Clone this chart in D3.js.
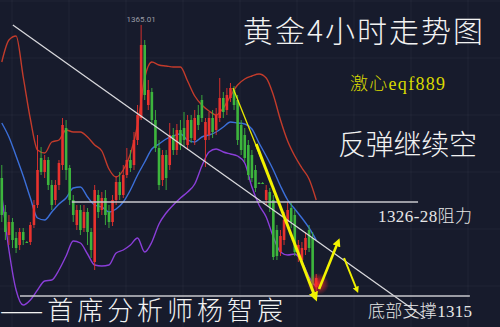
<!DOCTYPE html>
<html>
<head>
<meta charset="utf-8">
<style>
  html, body { margin: 0; padding: 0; background: #171b2c; }
  svg { display: block; }
</style>
</head>
<body>
<svg width="500" height="327"></svg>
<script src="https://cdn.jsdelivr.net/npm/d3@7/dist/d3.min.js"></script>
<script>
// 4小时K线 (开, 收, 高, 低)
var opens = [1334.4, 1327.6, 1323.0, 1325.6, 1322.4, 1321.0, 1323.6, 1321.6, 1321.6, 1325.0,
    1329.0, 1338.4, 1335.6, 1338.0, 1333.0, 1330.0, 1333.0, 1337.0, 1344.4, 1336.4,
    1330.0, 1325.0, 1328.0, 1324.4, 1327.6, 1323.6, 1317.6, 1331.0, 1328.0, 1330.4,
    1327.6, 1325.6, 1330.0, 1333.6, 1331.0, 1335.0, 1338.0, 1337.0, 1342.0, 1346.4,
    1361.0, 1349.0, 1351.6, 1346.0, 1340.4, 1334.0, 1339.0, 1337.0, 1343.0, 1340.0,
    1344.0, 1344.4, 1341.0, 1346.0, 1342.0, 1347.0, 1350.0, 1342.0, 1343.0, 1346.4,
    1344.0, 1346.4, 1350.4, 1348.0, 1350.4, 1352.0, 1350.0, 1345.0, 1343.0, 1341.0,
    1339.0, 1336.0, 1333.4, 1333.4, 1330.0, 1331.6, 1330.0, 1324.0, 1319.6, 1322.0,
    1325.6, 1328.4, 1327.0, 1319.0, 1318.0, 1320.0, 1324.0, 1322.4, 1312.6];
var closes = [1327.0, 1323.6, 1325.6, 1322.0, 1320.4, 1323.6, 1322.0, 1321.5, 1325.0, 1329.0,
    1336.0, 1335.6, 1338.0, 1333.0, 1329.0, 1333.0, 1337.4, 1345.0, 1336.0, 1330.0,
    1327.0, 1328.0, 1324.0, 1327.6, 1323.6, 1320.0, 1332.0, 1327.6, 1330.4, 1327.0,
    1325.6, 1330.0, 1333.6, 1331.0, 1335.0, 1338.0, 1336.4, 1342.0, 1347.0, 1361.0,
    1351.0, 1352.0, 1346.0, 1340.4, 1333.0, 1339.0, 1334.4, 1343.0, 1340.0, 1344.0,
    1341.0, 1342.0, 1346.0, 1342.4, 1346.4, 1345.0, 1346.4, 1345.6, 1346.4, 1343.6,
    1347.0, 1350.4, 1347.6, 1351.0, 1352.4, 1349.0, 1342.0, 1340.0, 1338.4, 1335.0,
    1334.4, 1332.4, 1333.3, 1333.3, 1332.0, 1328.6, 1318.6, 1318.8, 1322.8, 1326.0,
    1328.0, 1325.6, 1319.6, 1321.0, 1320.4, 1322.4, 1320.4, 1313.0, 1314.4];
var highs = [1337.0, 1329.0, 1327.0, 1326.4, 1323.6, 1324.4, 1324.4, 1321.8, 1325.6, 1330.0,
    1343.0, 1340.6, 1339.0, 1338.6, 1334.0, 1334.0, 1338.0, 1346.4, 1346.0, 1337.0,
    1331.0, 1329.0, 1329.0, 1329.0, 1328.4, 1324.4, 1333.0, 1332.0, 1331.6, 1332.0,
    1329.0, 1331.0, 1334.8, 1335.6, 1337.0, 1340.4, 1340.0, 1343.6, 1349.0, 1365.01,
    1362.0, 1354.0, 1352.4, 1348.0, 1342.0, 1340.0, 1340.0, 1345.4, 1344.4, 1345.2,
    1346.0, 1347.6, 1347.0, 1347.0, 1348.0, 1349.0, 1351.0, 1346.4, 1347.6, 1348.0,
    1348.4, 1354.4, 1351.6, 1352.4, 1353.4, 1352.8, 1351.0, 1346.0, 1344.4, 1342.0,
    1340.0, 1337.0, 1333.6, 1333.6, 1333.0, 1332.4, 1331.0, 1325.0, 1324.0, 1327.6,
    1329.6, 1329.4, 1328.0, 1322.0, 1321.6, 1323.6, 1325.0, 1323.6, 1315.2];
var lows = [1325.6, 1322.0, 1321.0, 1320.4, 1319.4, 1320.0, 1321.0, 1321.4, 1321.0, 1324.4,
    1328.4, 1335.0, 1334.4, 1332.0, 1328.0, 1329.0, 1332.0, 1336.0, 1334.0, 1329.0,
    1325.6, 1324.0, 1323.0, 1323.6, 1321.0, 1318.4, 1316.0, 1326.4, 1327.0, 1325.0,
    1324.4, 1324.8, 1329.0, 1330.0, 1330.4, 1334.4, 1335.6, 1336.0, 1341.0, 1346.0,
    1350.0, 1348.0, 1345.0, 1339.6, 1332.0, 1332.8, 1332.0, 1336.0, 1339.0, 1339.0,
    1340.0, 1340.8, 1340.0, 1341.4, 1341.0, 1344.0, 1345.6, 1336.6, 1342.0, 1342.4,
    1343.0, 1345.6, 1346.4, 1347.0, 1349.6, 1348.0, 1341.0, 1339.0, 1337.6, 1334.0,
    1333.6, 1331.6, 1333.2, 1333.2, 1329.0, 1327.6, 1318.0, 1318.0, 1318.8, 1321.0,
    1324.4, 1324.4, 1318.8, 1317.6, 1317.2, 1319.0, 1319.6, 1312.0, 1311.6];

// 布林带, 每两根K线取一个值
var bandStep = 2;
var upperBand = [1357.6, 1362, 1362.8, 1354.6, 1346.2, 1340, 1339.4, 1341.6, 1342, 1344,
    1343.6, 1343.6, 1342.6, 1341, 1339.8, 1336.2, 1334.6, 1336, 1339.2, 1345,
    1354.4, 1357.6, 1357, 1356.8, 1356.6, 1356.6, 1353.8, 1350.8, 1349, 1347.8,
    1347, 1348.4, 1350.8, 1353, 1354.2, 1354.8, 1355.2, 1354.4, 1351, 1346,
    1341.8, 1338.8, 1336.4, 1334.2, 1330];
var midBand = [1345.4, 1342.6, 1338.8, 1334.8, 1330.4, 1326.4, 1326, 1327.6, 1329.2, 1330.4,
    1332.4, 1332.6, 1330.6, 1329, 1328.6, 1327.6, 1328.2, 1329.6, 1332, 1335,
    1337.6, 1340.2, 1341.2, 1342.2, 1342.8, 1343.2, 1342, 1341.6, 1342.6, 1343,
    1343.6, 1344.6, 1345.6, 1345.4, 1345.2, 1344.2, 1341.4, 1338.8, 1336, 1332.8,
    1330, 1328.2, 1326.4, 1324.4, 1322];
var lowerBand = [1331, 1320, 1312, 1309, 1310, 1312, 1313.8, 1314, 1316, 1318.8,
    1321.8, 1321.4, 1319.2, 1317, 1316.8, 1317, 1319.4, 1320, 1321, 1322.4,
    1319.6, 1321.6, 1325.2, 1327.4, 1329, 1330.4, 1331.6, 1333.2, 1336.8, 1339.6,
    1340.2, 1339.6, 1339.2, 1338.8, 1337.4, 1332.6, 1329, 1326.6, 1322.6, 1319.6,
    1319, 1319.2, 1317.6, 1314.6, 1312.6];

// 画线 [K线序号, 价格]
var trendLine = [[3.1, 1365.0], [118.5, 1306.4]];
var resistanceLine = [[19.6, 1329.6], [116.5, 1329.6]];
var supportLine = [[5.1, 1310.8], [131.0, 1310.8]];
var yellowThin = [[64.7, 1352.4], [72.8, 1338.0]];
var yellowDown = [[71.2, 1341.2], [87.7, 1310.6]];
var yellowUp = [[88.8, 1312.2], [94.1, 1321.6]];
var yellowNext = [[95.8, 1318.4], [99.4, 1312.0]];
var glowPoint = [88.5, 1313.2];
var highIndex = 39;

var svg = d3.select("svg"),
    width = +svg.attr("width"),
    height = +svg.attr("height");

var x = d3.scaleLinear().domain([-0.5, closes.length - 0.5]).range([0, 318]),
    y = d3.scaleLinear().domain([1310, 1370]).range([300, 0]);

var barW = 2.6,
    upColor = "#e8322e",
    downColor = "#3db53d";

svg.append("rect").attr("width", width).attr("height", height).attr("fill", "#171b2c");

// 淡网格
var grid = svg.append("g").attr("stroke", "#ffffff").attr("stroke-opacity", 0.045);
grid.selectAll(".v").data(d3.range(12, width, 57)).enter().append("line")
    .attr("x1", d => d).attr("x2", d => d).attr("y1", 0).attr("y2", height);
grid.selectAll(".h").data(d3.range(286, 0, -57)).enter().append("line")
    .attr("x1", 0).attr("x2", width).attr("y1", d => d).attr("y2", d => d);

var defs = svg.append("defs");
var glow = defs.append("radialGradient").attr("id", "glow");
glow.append("stop").attr("offset", "0%").attr("stop-color", "#ff2a2a").attr("stop-opacity", 0.9);
glow.append("stop").attr("offset", "100%").attr("stop-color", "#ff2a2a").attr("stop-opacity", 0);

defs.append("marker")
    .attr("id", "arrow")
    .attr("viewBox", "0 0 10 10")
    .attr("refX", 5).attr("refY", 5)
    .attr("markerWidth", 3.2).attr("markerHeight", 3.2)
    .attr("orient", "auto")
    .append("path").attr("d", "M0,0L10,5L0,10z").attr("fill", "#f2f200");

var candles = closes.map(function(c, i) {
    return { i: i, o: opens[i], c: c, h: highs[i], l: lows[i] };
});

var line = d3.line().x(d => x(d[0])).y(d => y(d[1]));
var bandLine = d3.line().curve(d3.curveMonotoneX).x(d => x(d[0])).y(d => y(d[1]));

function bandPoints(arr) {
    return arr.map(function(v, k) { return [k * bandStep, v]; });
}

// 布林带
[[upperBand, "#c23b2b"], [midBand, "#3b6fd9"], [lowerBand, "#8a3ed8"]].forEach(function(b) {
    svg.append("path")
        .datum(bandPoints(b[0]))
        .attr("fill", "none")
        .attr("stroke", b[1])
        .attr("stroke-width", 1.4)
        .attr("d", bandLine);
});

// K线
var g = svg.append("g");
g.selectAll(".wick").data(candles).enter().append("line")
    .attr("class", "wick")
    .attr("x1", d => x(d.i)).attr("x2", d => x(d.i))
    .attr("y1", d => y(d.h)).attr("y2", d => y(d.l))
    .attr("stroke", d => d.c >= d.o ? upColor : downColor)
    .attr("stroke-width", 0.9);
g.selectAll(".body").data(candles).enter().append("rect")
    .attr("class", "body")
    .attr("x", d => x(d.i) - barW / 2)
    .attr("y", d => y(Math.max(d.o, d.c)))
    .attr("width", barW)
    .attr("height", d => Math.max(1, Math.abs(y(d.o) - y(d.c))))
    .attr("fill", d => d.c >= d.o ? upColor : downColor);

// 最高价
svg.append("text")
    .attr("x", x(highIndex)).attr("y", y(highs[highIndex]) - 3)
    .attr("text-anchor", "middle")
    .attr("font-family", "Roboto, sans-serif").attr("font-size", 8)
    .attr("fill", "#9a9ca6")
    .text(highs[highIndex].toFixed(2));

// 趋势线, 阻力线, 支撑线
svg.append("path").datum(trendLine).attr("d", line)
    .attr("stroke", "#d8d8dc").attr("stroke-width", 1.3).attr("fill", "none");
svg.append("path").datum(resistanceLine).attr("d", line)
    .attr("stroke", "#c8c8cc").attr("stroke-width", 1.7).attr("fill", "none");
svg.append("path").datum(supportLine).attr("d", line)
    .attr("stroke", "#c8c8cc").attr("stroke-width", 1.7).attr("fill", "none");

// 黄色箭头
svg.append("circle")
    .attr("cx", x(glowPoint[0])).attr("cy", y(glowPoint[1])).attr("r", 11)
    .attr("fill", "url(#glow)");
svg.append("path").datum(yellowThin).attr("d", line)
    .attr("stroke", "#e8e800").attr("stroke-width", 1.3).attr("fill", "none");
svg.append("path").datum(yellowDown).attr("d", line)
    .attr("stroke", "#f2f200").attr("stroke-width", 3).attr("fill", "none")
    .attr("marker-end", "url(#arrow)");
svg.append("path").datum(yellowUp).attr("d", line)
    .attr("stroke", "#f2f200").attr("stroke-width", 2.6).attr("fill", "none")
    .attr("marker-end", "url(#arrow)");
svg.append("path").datum(yellowNext).attr("d", line)
    .attr("stroke", "#f2f200").attr("stroke-width", 2).attr("fill", "none")
    .attr("marker-end", "url(#arrow)");

// 文字, 按参考图宽度调整字距
var cjk = "'Noto Sans CJK SC', sans-serif",
    serif = "'Liberation Serif', 'Noto Sans CJK SC', serif";

function label(txt, tx, ty, size, color, family, span) {
    var t = svg.append("text")
        .attr("x", tx).attr("y", ty)
        .attr("font-family", family)
        .attr("font-size", size)
        .attr("font-weight", 300)
        .attr("fill", color)
        .text(txt);
    var len = t.node().getComputedTextLength();
    var n = Array.from(txt).length;
    t.attr("letter-spacing", ((span - len) / (n - 1)).toFixed(2));
}

label("黄金4小时走势图", 243, 42, 30, "#f2f2f2", cjk, 240);
label("激心eqf889", 350, 90, 18, "#d9d900", serif, 95);
label("反弹继续空", 338, 155, 28, "#f2f2f2", cjk, 139);
label("1326-28阻力", 378, 222, 17, "#e6e6e6", serif, 94);
label("底部支撑1315", 368, 317, 17, "#e6e6e6", serif, 104);
label("——首席分析师杨智宸", 0, 320, 26, "#f2f2f2", cjk, 287);
</script>
</body>
</html>
